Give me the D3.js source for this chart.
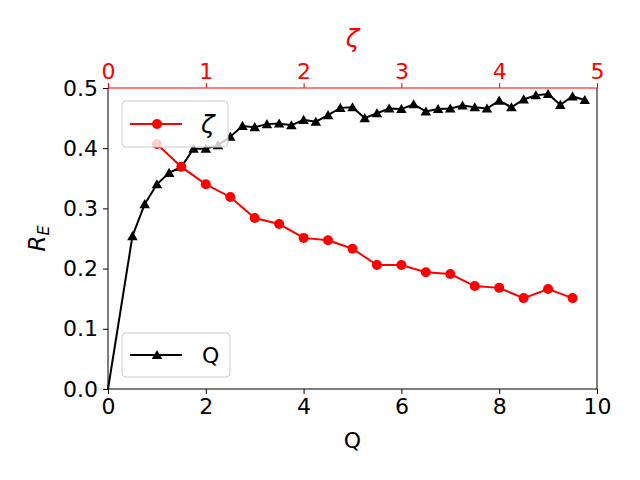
<!DOCTYPE html>
<meta charset="utf-8">
<style>
body { margin: 0; background: #fff; }
text { font-family: "DejaVu Sans", sans-serif; }
</style>
<body>
<script src="https://cdn.jsdelivr.net/npm/d3@7"></script>
<script>

// Q series (bottom axis)
var qX = [0, 0.5, 0.75, 1.0, 1.25, 1.5, 1.75, 2.0, 2.25, 2.5, 2.75, 3.0, 3.25, 3.5, 3.75,
          4.0, 4.25, 4.5, 4.75, 5.0, 5.25, 5.5, 5.75, 6.0, 6.25, 6.5, 6.75, 7.0, 7.25,
          7.5, 7.75, 8.0, 8.25, 8.5, 8.75, 9.0, 9.25, 9.5, 9.75];
var qY = [0.0, 0.254, 0.307, 0.340, 0.359, 0.369, 0.399, 0.399, 0.405, 0.419, 0.437, 0.435,
          0.440, 0.441, 0.438, 0.447, 0.444, 0.455, 0.467, 0.468, 0.450, 0.458, 0.466,
          0.465, 0.473, 0.461, 0.465, 0.466, 0.471, 0.468, 0.466, 0.479, 0.468, 0.481,
          0.488, 0.490, 0.472, 0.486, 0.480];

// zeta series (top axis)
var zX = [0.5, 0.75, 1.0, 1.25, 1.5, 1.75, 2.0, 2.25, 2.5, 2.75, 3.0, 3.25, 3.5, 3.75,
          4.0, 4.25, 4.5, 4.75];
var zY = [0.407, 0.369, 0.340, 0.319, 0.284, 0.274, 0.251, 0.247, 0.233, 0.206, 0.206,
          0.194, 0.191, 0.171, 0.168, 0.151, 0.166, 0.151];

var qTicks = [0, 2, 4, 6, 8, 10];
var zTicks = [0, 1, 2, 3, 4, 5];
var yTicks = [0.0, 0.1, 0.2, 0.3, 0.4, 0.5];

var W = 640, H = 480;
var pL = 108, pR = 597, pT = 88, pB = 389;
var fs = 22;

var svg = d3.select("body").append("svg")
    .attr("width", W).attr("height", H);

var x = d3.scaleLinear().domain([0, 10]).range([pL, pR]);
var x2 = d3.scaleLinear().domain([0, 5]).range([pL, pR]);
var y = d3.scaleLinear().domain([0, 0.5]).range([pB, pT]);

// axes
var gB = svg.append("g").attr("transform", "translate(0," + pB + ")")
    .call(d3.axisBottom(x).tickValues(qTicks).tickFormat(d3.format("d")).tickSizeInner(5).tickSizeOuter(0).tickPadding(4));
var gL = svg.append("g").attr("transform", "translate(" + pL + ",0)")
    .call(d3.axisLeft(y).tickValues(yTicks).tickFormat(d3.format(".1f")).tickSizeInner(5).tickSizeOuter(0).tickPadding(5));
var gT = svg.append("g").attr("transform", "translate(0," + pT + ")")
    .call(d3.axisTop(x2).tickValues(zTicks).tickFormat(d3.format("d")).tickSizeInner(5).tickSizeOuter(0).tickPadding(4));

[gB, gL, gT].forEach(function(g) {
  g.attr("font-size", fs).attr("font-family", "DejaVu Sans");
  g.selectAll("text").attr("fill", "#000");
  g.selectAll("line").attr("stroke", "#000").attr("stroke-width", 1);
  g.select(".domain").remove();
});
gT.selectAll("text").attr("fill", "red");
gT.selectAll("line").attr("stroke", "red");

// spines
svg.append("line").attr("x1", pL).attr("x2", pL).attr("y1", pT).attr("y2", pB).attr("stroke", "#000");
svg.append("line").attr("x1", pR).attr("x2", pR).attr("y1", pT).attr("y2", pB).attr("stroke", "#000");
svg.append("line").attr("x1", pL).attr("x2", pR).attr("y1", pB).attr("y2", pB).attr("stroke", "#000");
svg.append("line").attr("x1", pL).attr("x2", pR).attr("y1", pT).attr("y2", pT).attr("stroke", "red");

// axis labels
svg.append("text").attr("x", (pL + pR) / 2).attr("y", 448)
    .attr("text-anchor", "middle").attr("font-size", fs).text("Q");
svg.append("text").attr("x", (pL + pR) / 2).attr("y", 47)
    .attr("text-anchor", "middle").attr("font-size", 25).attr("font-style", "italic")
    .attr("fill", "red").text("ζ");
var yl = svg.append("text").attr("transform", "translate(45," + ((pT + pB) / 2) + ") rotate(-90)")
    .attr("text-anchor", "middle").attr("font-size", 23);
yl.append("tspan").attr("font-style", "italic").text("R");
yl.append("tspan").attr("font-style", "italic").attr("font-size", 16).attr("dy", 4).text("E");

var tri = d3.symbol().type(d3.symbolTriangle).size(48);

// Q line (first point at the origin is drawn without a marker)
var lineQ = d3.line().x(function(d, i) { return x(qX[i]); }).y(function(d) { return y(d); });
svg.append("path").attr("d", lineQ(qY)).attr("fill", "none").attr("stroke", "#000").attr("stroke-width", 2);
svg.selectAll(".tq").data(qY.slice(1)).enter().append("path")
    .attr("transform", function(d, i) { return "translate(" + x(qX[i + 1]) + "," + (y(d) + 1) + ")"; })
    .attr("d", tri).attr("fill", "#000");

function legend(lx, ly, w, h, label, color, marker) {
  var g = svg.append("g");
  g.append("rect").attr("x", lx).attr("y", ly).attr("width", w).attr("height", h)
      .attr("rx", 4).attr("fill", "#fff").attr("fill-opacity", 0.8)
      .attr("stroke", "#cccccc").attr("stroke-width", 1);
  var cy = ly + h / 2;
  g.append("line").attr("x1", lx + 8).attr("x2", lx + 60).attr("y1", cy).attr("y2", cy)
      .attr("stroke", color).attr("stroke-width", 2);
  if (marker === "circle") {
    g.append("circle").attr("cx", lx + 35).attr("cy", cy).attr("r", 5).attr("fill", color);
    g.append("text").attr("x", lx + 79).attr("y", cy + 9).attr("font-size", 25)
        .attr("font-style", "italic").text(label);
  } else {
    g.append("path").attr("transform", "translate(" + (lx + 35) + "," + (cy + 1) + ")").attr("d", tri).attr("fill", color);
    g.append("text").attr("x", lx + 80).attr("y", cy + 8).attr("font-size", fs).text(label);
  }
}

legend(122, 333, 108, 44, "Q", "#000", "tri");

// zeta line
var lineZ = d3.line().x(function(d, i) { return x2(zX[i]); }).y(function(d) { return y(d); });
svg.append("path").attr("d", lineZ(zY)).attr("fill", "none").attr("stroke", "red").attr("stroke-width", 2);
svg.selectAll(".cz").data(zY).enter().append("circle")
    .attr("cx", function(d, i) { return x2(zX[i]); })
    .attr("cy", function(d) { return y(d); })
    .attr("r", 5).attr("fill", "red");

legend(122, 101, 106, 46, "ζ", "red", "circle");

</script>
</body>
